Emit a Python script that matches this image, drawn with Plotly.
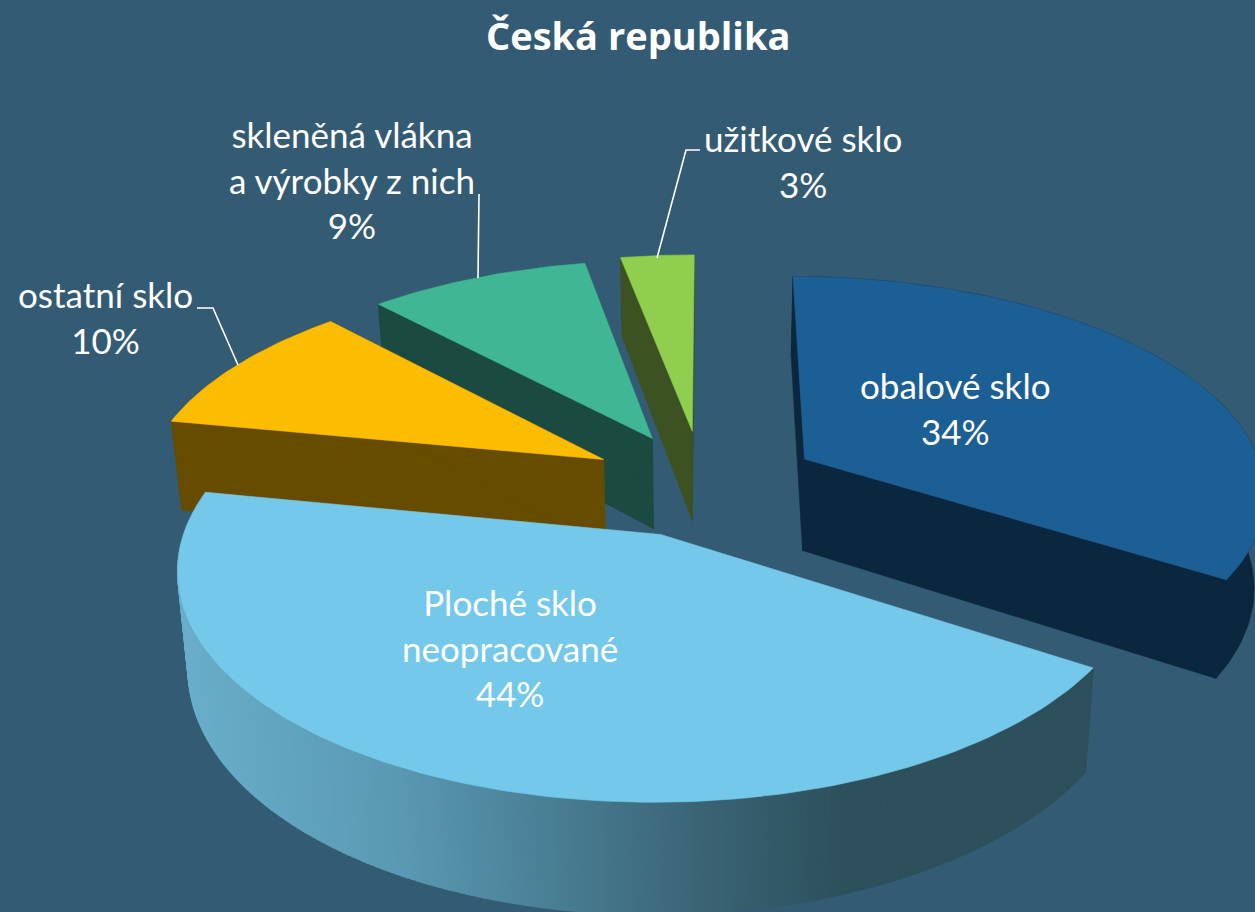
import numpy as np
import plotly.graph_objects as go

# ---- data ----
categories = ["obalové sklo", "Ploché sklo<br>neopracované", "ostatní sklo",
              "skleněná vlákna<br>a výrobky z nich", "užitkové sklo"]
values = [34, 44, 10, 9, 3]
title = "Česká republika"

# ---- style ----
top_colors = ["#1C5F95", "#74C9EA", "#FCBC00", "#40B794", "#8FCE4E"]
wall_colors = ["#0B273E", None, "#664C00", "#1B4A40", "#3D5222"]
explode = [0.255, 0.24, 0.25, 0.25, 0.26]
draw_order = [4, 3, 0, 2, 1]
grad_x = [185, 400, 550, 700, 850, 1090]
grad_rgb = [(105, 174, 202), (90, 153, 179), (74, 127, 148), (59, 100, 117), (45, 80, 92), (46, 80, 93)]
label_xy = [(955, 408), (510, 647), (105, 317), (352, 179), (803, 161)]
leaders = [None, None, [(197, 308), (213, 308), (238, 365)],
           [(479, 194), (478, 278)], [(700, 150), (686, 150), (657, 258)]]
BG = "#345B74"
CX, CY, P, Q, K, H, TAPER = 703, 485, 462, 215, 0.14, 93, 0.98
ROT = 0.1


def project(u, v, low=False):
    w = 1 + K * v
    x = P * u / w
    y = CY - Q * v / w
    if low:
        x = x * TAPER
        y = y + H / w
    return CX + x, y


total = sum(values)
ends = np.cumsum(values) / total * 360 + ROT
starts = ends - np.array(values) / total * 360

fig = go.Figure()


def poly(xs, ys, color, lw=0.6):
    fig.add_trace(go.Scatter(x=list(xs), y=list(ys), mode="lines", fill="toself", fillcolor=color,
                             line=dict(color=color, width=lw), hoverinfo="skip", showlegend=False))


for i in draw_order:
    t0, t1 = np.radians(starts[i]), np.radians(ends[i])
    m = (t0 + t1) / 2
    au, av = explode[i] * np.sin(m), explode[i] * np.cos(m)
    th = np.linspace(t0, t1, max(int(values[i] * 3), 12) + 1)
    u, v = au + np.sin(th), av + np.cos(th)
    tx, ty = project(u, v)
    bx, by = project(u, v, True)
    ax, ay = project(au, av)
    abx, aby = project(au, av, True)
    if wall_colors[i] is None:
        # gradient outer wall of the large slice, coloured by horizontal position
        th2 = np.linspace(t0, t1, 241)
        u2, v2 = au + np.sin(th2), av + np.cos(th2)
        tx2, ty2 = project(u2, v2)
        bx2, by2 = project(u2, v2, True)
        for k in range(len(th2) - 1):
            mx = (tx2[k] + tx2[k + 1]) / 2
            c = [np.interp(mx, grad_x, [g[j] for g in grad_rgb]) for j in range(3)]
            color = "rgb(%d,%d,%d)" % tuple(c)
            poly([tx2[k], tx2[k + 1], bx2[k + 1], bx2[k], tx2[k]],
                 [ty2[k], ty2[k + 1], by2[k + 1], by2[k], ty2[k]], color, lw=1.6)
    else:
        wc = wall_colors[i]
        poly(list(tx) + list(bx[::-1]) + [tx[0]], list(ty) + list(by[::-1]) + [ty[0]], wc)
        poly([ax, tx[0], bx[0], abx, ax], [ay, ty[0], by[0], aby, ay], wc)
        poly([ax, tx[-1], bx[-1], abx, ax], [ay, ty[-1], by[-1], aby, ay], wc)
    poly([ax] + list(tx) + [ax], [ay] + list(ty) + [ay], top_colors[i])

for seg in leaders:
    if seg:
        fig.add_trace(go.Scatter(x=[p[0] for p in seg], y=[p[1] for p in seg], mode="lines",
                                 line=dict(color="white", width=1.6), hoverinfo="skip", showlegend=False))

for i, c in enumerate(categories):
    fig.add_annotation(x=label_xy[i][0], y=label_xy[i][1], text=f"{c}<br>{values[i]}%", showarrow=False,
                       font=dict(family="Lato", size=35, color="white"), align="center",
                       xanchor="center", yanchor="middle")

fig.add_annotation(x=638, y=35, text=f"<b>{title}</b>", showarrow=False,
                   font=dict(family="Open Sans", size=38, color="white"), xanchor="center", yanchor="middle")

fig.update_layout(width=1255, height=912, margin=dict(l=0, r=0, t=0, b=0),
                  paper_bgcolor=BG, plot_bgcolor=BG, showlegend=False,
                  xaxis=dict(range=[0, 1255], visible=False, fixedrange=True),
                  yaxis=dict(range=[912, 0], visible=False, fixedrange=True))
fig.write_html("out.html", config={"displayModeBar": False},
               post_script="document.body.style.margin='0';document.body.style.overflow='hidden';"
                           "document.body.style.background='#345B74';")
